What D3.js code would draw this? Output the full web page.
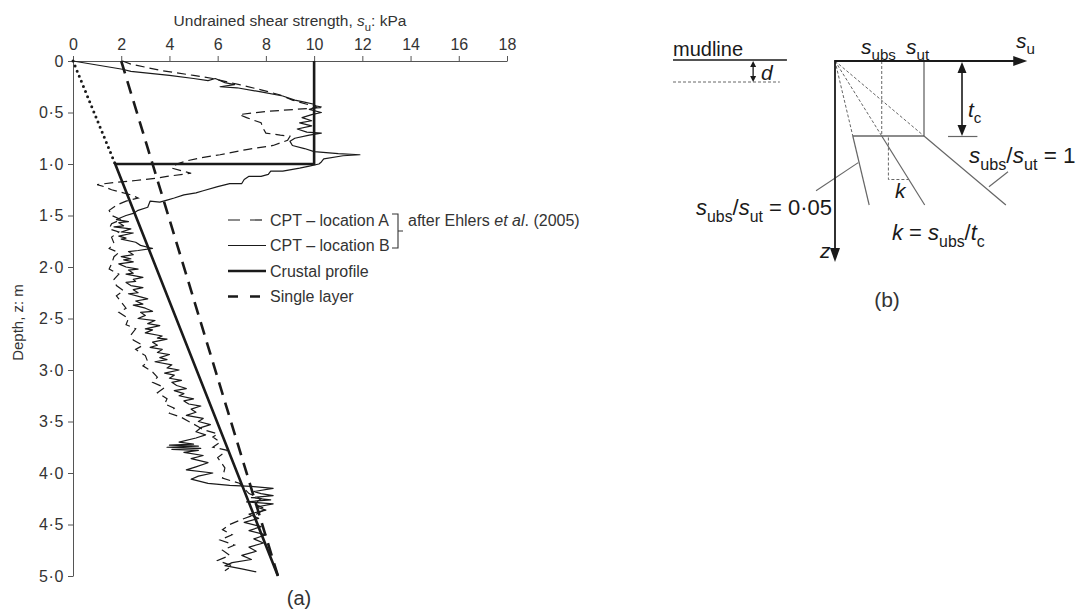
<!DOCTYPE html>
<html>
<head>
<meta charset="utf-8">
<script src="https://cdn.jsdelivr.net/npm/d3@7"></script>
<style>
  body { margin: 0; background: #fff; }
  svg { display: block; font-family: "Liberation Sans", Arial, sans-serif; }
</style>
</head>
<body>
<svg id="chart" width="1078" height="610"></svg>
<script>
// ---- 1. Data (depth z in m, su in kPa) ----
const xTicks = [0, 2, 4, 6, 8, 10, 12, 14, 16, 18];
const yTicks = [0, 0.5, 1, 1.5, 2, 2.5, 3, 3.5, 4, 4.5, 5];

// [z, su]
const crustalProfile = [[0, 10], [1, 10], [1, 1.75], [5, 8.5]];
const crustalExtension = [[0, 0], [1, 1.75]];
const singleLayer = [[0, 2], [5, 8.5]];

const cptA = [
  [0, 2.05], [0.03, 2.4], [0.09, 3.6], [0.14, 5.0], [0.17, 5.8], [0.23, 6.9],
  [0.28, 7.8], [0.33, 8.6], [0.38, 9.1], [0.42, 9.7], [0.45, 10.4], [0.47, 9.2],
  [0.49, 8.0], [0.52, 6.9], [0.55, 7.2], [0.6, 7.8], [0.66, 7.9], [0.7, 8.0],
  [0.72, 8.6], [0.73, 9.0], [0.77, 8.9], [0.82, 8.3], [0.86, 7.2], [0.91, 6.1],
  [0.94, 5.3], [0.97, 4.7], [1.0, 4.3], [1.04, 4.1], [1.09, 4.9], [1.12, 3.9],
  [1.14, 3.4], [1.16, 2.6], [1.18, 1.7], [1.2, 1.0], [1.22, 1.3], [1.25, 1.6],
  [1.3, 2.4], [1.33, 2.7], [1.36, 2.2], [1.4, 1.8], [1.45, 1.5], [1.5, 1.6],
  [1.54, 2.0], [1.58, 1.6], [1.63, 1.5], [1.66, 1.9], [1.71, 1.6], [1.77, 1.7],
  [1.82, 1.5], [1.86, 1.9], [1.9, 1.7], [1.97, 1.6], [2.02, 1.5], [2.07, 1.9],
  [2.12, 1.7], [2.18, 1.8], [2.23, 2.1], [2.28, 1.8], [2.34, 2.0], [2.4, 2.2],
  [2.44, 1.9], [2.5, 2.3], [2.56, 2.2], [2.6, 2.6], [2.66, 2.4], [2.71, 2.5],
  [2.76, 2.9], [2.8, 2.6], [2.86, 3.0], [2.92, 3.1], [2.96, 2.9], [3.02, 3.3],
  [3.07, 3.5], [3.12, 3.3], [3.17, 3.8], [3.22, 3.5], [3.28, 3.9], [3.33, 3.8],
  [3.37, 4.2], [3.42, 4.0], [3.46, 4.5], [3.5, 4.8], [3.55, 5.2], [3.58, 5.4],
  [3.62, 6.0], [3.65, 5.8], [3.7, 6.1], [3.75, 5.8], [3.78, 6.4], [3.85, 6.0],
  [3.95, 6.3], [4.05, 6.2], [4.1, 6.9], [4.2, 7.3], [4.25, 7.8], [4.3, 7.5],
  [4.35, 8.0], [4.4, 7.6], [4.45, 7.0], [4.5, 6.5], [4.55, 6.2], [4.6, 6.6],
  [4.65, 6.1], [4.7, 6.7], [4.75, 6.2], [4.8, 6.5], [4.85, 6.0], [4.9, 6.6],
  [4.95, 6.3]
];

const cptB = [
  [0, 0], [0.08, 2.05], [0.1, 2.4], [0.14, 4.0], [0.17, 5.0], [0.19, 5.6],
  [0.17, 5.9], [0.21, 6.3], [0.23, 6.7], [0.25, 6.1], [0.26, 6.8], [0.3, 7.8],
  [0.34, 8.7], [0.38, 9.2], [0.4, 9.6], [0.42, 10.0], [0.45, 10.1], [0.47, 9.8],
  [0.5, 10.3], [0.52, 9.9], [0.55, 9.5], [0.58, 9.9], [0.6, 9.4], [0.63, 9.9],
  [0.66, 9.3], [0.69, 9.7], [0.7, 10.3], [0.72, 9.8], [0.75, 9.2], [0.78, 9.0],
  [0.82, 9.1], [0.85, 9.6], [0.88, 10.0], [0.9, 11.0], [0.91, 11.9], [0.92, 11.2],
  [0.95, 10.4], [0.98, 10.3], [1.0, 10.2], [1.02, 9.8], [1.04, 9.4], [1.07, 8.7],
  [1.07, 8.2], [1.1, 8.1], [1.12, 7.8], [1.12, 7.3], [1.15, 7.1], [1.19, 7.0],
  [1.19, 6.5], [1.22, 6.0], [1.26, 5.4], [1.28, 5.1], [1.3, 4.6], [1.33, 4.2],
  [1.35, 3.9], [1.37, 3.6], [1.36, 3.2], [1.42, 3.1], [1.45, 2.7], [1.48, 2.5],
  [1.5, 2.2], [1.52, 2.0], [1.54, 1.8], [1.56, 2.3], [1.57, 1.9], [1.6, 2.1],
  [1.61, 1.7], [1.63, 2.4], [1.66, 2.0], [1.67, 2.5], [1.7, 1.9], [1.72, 2.2],
  [1.73, 2.0], [1.76, 2.6], [1.79, 2.8], [1.82, 3.3], [1.84, 2.7], [1.85, 2.3],
  [1.88, 2.5], [1.9, 2.0], [1.92, 2.4], [1.93, 2.1], [1.95, 2.5], [1.97, 1.9],
  [2.0, 2.2], [2.02, 2.7], [2.03, 2.3], [2.06, 2.5], [2.07, 2.2], [2.1, 2.9],
  [2.12, 2.5], [2.14, 2.6], [2.15, 2.2], [2.18, 2.4], [2.2, 2.9], [2.22, 2.5],
  [2.25, 2.7], [2.26, 2.3], [2.29, 2.8], [2.31, 3.1], [2.33, 2.6], [2.36, 2.9],
  [2.37, 2.5], [2.4, 3.0], [2.43, 3.3], [2.44, 2.8], [2.47, 3.0], [2.5, 2.7],
  [2.52, 3.4], [2.55, 3.1], [2.57, 3.6], [2.6, 3.0], [2.61, 3.3], [2.64, 3.0],
  [2.67, 3.7], [2.69, 3.5], [2.7, 3.9], [2.73, 3.3], [2.76, 3.5], [2.78, 3.2],
  [2.8, 3.7], [2.83, 3.5], [2.85, 4.0], [2.88, 3.6], [2.9, 3.9], [2.92, 3.4],
  [2.95, 4.1], [2.98, 3.9], [3.0, 4.4], [3.03, 3.8], [3.05, 4.2], [3.08, 4.0],
  [3.1, 4.5], [3.12, 4.1], [3.15, 4.3], [3.18, 4.7], [3.2, 4.2], [3.23, 4.6],
  [3.25, 4.4], [3.28, 5.0], [3.3, 4.6], [3.33, 4.8], [3.35, 5.3], [3.38, 4.9],
  [3.41, 5.1], [3.44, 4.7], [3.47, 5.4], [3.5, 5.2], [3.53, 5.7], [3.56, 5.3],
  [3.6, 5.1], [3.63, 5.5], [3.66, 5.1], [3.7, 4.4], [3.72, 5.0], [3.73, 4.0],
  [3.74, 5.2], [3.75, 3.9], [3.76, 5.3], [3.77, 4.1], [3.78, 5.2], [3.8, 4.6],
  [3.83, 5.4], [3.86, 4.9], [3.9, 5.6], [3.94, 5.1], [3.97, 4.7], [4.0, 5.8],
  [4.03, 5.2], [4.06, 4.9], [4.1, 5.6], [4.12, 6.5], [4.13, 7.4], [4.15, 8.3],
  [4.18, 7.5], [4.2, 7.8], [4.22, 8.3], [4.24, 7.4], [4.26, 8.2], [4.28, 7.2],
  [4.3, 8.3], [4.33, 7.6], [4.36, 8.0], [4.4, 7.3], [4.44, 7.7], [4.48, 7.1],
  [4.52, 7.8], [4.56, 7.3], [4.6, 8.0], [4.64, 7.5], [4.68, 7.9], [4.72, 7.3],
  [4.76, 7.6], [4.8, 7.0], [4.84, 7.4], [4.87, 6.6], [4.9, 6.3], [4.93, 7.0],
  [4.96, 7.6]
];

const legendItems = ["CPT \u2013 location A", "CPT \u2013 location B", "Crustal profile", "Single layer"];

// schematic (b): s in units of s_ut, z in units of t_c
const ubsRatios = [0.2, 0.525, 1];
const zLineEnd = 1.92;
const suAxisEnd = 2.16;
const zAxisEnd = 2.68;
const mudlineSpan = [-1.82, -0.54];
const mudDashSpan = [-1.82, -0.62];
const dDepth = 0.28;

// ---- 2. Panel (a) ----
const svg = d3.select("#chart");
const ink = "#1a1a1a";

const x = d3.scaleLinear().domain([0, 18]).range([73, 507]);
const y = d3.scaleLinear().domain([0, 5]).range([61, 576]);

const ga = svg.append("g");

ga.append("g")
  .attr("transform", `translate(0,${y(0)})`)
  .call(d3.axisTop(x).tickValues(xTicks).tickSize(5).tickSizeOuter(0).tickPadding(6))
  .call((g) => g.selectAll("text").style("fill", "#333").style("font-size", "16px").attr("font-family", null))
  .call((g) => g.selectAll("line").style("stroke", "#555"))
  .call((g) => g.select(".domain").style("stroke", "#555"));

ga.append("g")
  .attr("transform", `translate(${x(0)},0)`)
  .call(
    d3.axisLeft(y).tickValues(yTicks).tickSize(5).tickSizeOuter(0).tickPadding(4)
      .tickFormat((d) => (d === 0 ? "0" : d.toFixed(1).replace(".", "\u00b7")))
  )
  .call((g) => g.selectAll("text").style("fill", "#333").style("font-size", "16px")
    .style("letter-spacing", "0.6px").attr("font-family", null))
  .call((g) => g.selectAll("line").style("stroke", "#555"))
  .call((g) => g.select(".domain").style("stroke", "#555"));

function richText(parent, px, py, parts, size, anchor) {
  const t = parent.append("text")
    .attr("x", px).attr("y", py)
    .attr("font-size", size)
    .attr("fill", ink)
    .attr("text-anchor", anchor || "start");
  let shift = 0;
  parts.forEach((p) => {
    const sp = t.append("tspan").text(p.t);
    if (p.i) sp.attr("font-style", "italic");
    const target = p.sub ? size * 0.3 : 0;
    if (target !== shift) { sp.attr("dy", target - shift); shift = target; }
    if (p.sub) sp.attr("font-size", size * 0.72);
  });
  return t;
}

richText(ga, (x(0) + x(18)) / 2, 26, [
  { t: "Undrained shear strength, " }, { t: "s", i: true }, { t: "u", sub: true }, { t: ": kPa" }
], 15.5, "middle").attr("fill", "#333");

ga.append("text")
  .attr("transform", `translate(23,${(y(0) + y(5)) / 2 + 4}) rotate(-90)`)
  .attr("text-anchor", "middle")
  .attr("font-size", 15)
  .attr("fill", "#333")
  .text("Depth, z: m");

const line = d3.line().x((d) => x(d[1])).y((d) => y(d[0]));

ga.append("path").datum(cptA)
  .attr("fill", "none").attr("stroke", ink).attr("stroke-width", 1.2)
  .attr("stroke-dasharray", "9,5").attr("d", line);

ga.append("path").datum(cptB)
  .attr("fill", "none").attr("stroke", ink).attr("stroke-width", 1.2)
  .attr("stroke-linejoin", "round").attr("d", line);

ga.append("path").datum(crustalExtension)
  .attr("fill", "none").attr("stroke", ink).attr("stroke-width", 3)
  .attr("stroke-linecap", "round").attr("stroke-dasharray", "0,5.5").attr("d", line);

ga.append("path").datum(singleLayer)
  .attr("fill", "none").attr("stroke", ink).attr("stroke-width", 2.6)
  .attr("stroke-dasharray", "13,8").attr("d", line);

ga.append("path").datum(crustalProfile)
  .attr("fill", "none").attr("stroke", ink).attr("stroke-width", 2.6)
  .attr("d", line);

// legend
const legend = ga.append("g").attr("transform", "translate(228,220)");
const legendStyles = [
  { w: 1.2, dash: "12,10" },
  { w: 1.2, dash: null },
  { w: 2.6, dash: null },
  { w: 2.6, dash: "10,12" }
];
legendItems.forEach((label, i) => {
  const row = legend.append("g").attr("transform", `translate(0,${i * 25.5})`);
  row.append("line")
    .attr("x1", 0).attr("x2", 38).attr("y1", 0).attr("y2", 0)
    .attr("stroke", ink).attr("stroke-width", legendStyles[i].w)
    .attr("stroke-dasharray", legendStyles[i].dash);
  row.append("text")
    .attr("x", 42).attr("y", 5.5)
    .attr("font-size", 16).attr("fill", "#333")
    .text(label);
});
// bracket for the two CPT rows
legend.append("path")
  .attr("d", "M164,-6H170V28H164M170,11H175")
  .attr("fill", "none").attr("stroke", "#333").attr("stroke-width", 1.1);
richText(legend, 180, 5.5, [
  { t: "after Ehlers " }, { t: "et al", i: true }, { t: ". (2005)" }
], 16).attr("fill", "#333");

ga.append("text")
  .attr("x", 299).attr("y", 605)
  .attr("text-anchor", "middle").attr("font-size", 20).attr("fill", "#333")
  .text("(a)");

// ---- 3. Panel (b) schematic ----
const sx = d3.scaleLinear().domain([0, 1]).range([835, 924]);
const sz = d3.scaleLinear().domain([0, 1]).range([61, 136]);
const gb = svg.append("g");
const grey = "#666";

function arrowHead(g, tx, ty, dir, len, half) {
  // dir: unit vector pointing toward the tip
  const [dx, dy] = dir;
  const bx = tx - dx * len, by = ty - dy * len;
  g.append("path")
    .attr("d", `M${tx},${ty}L${bx - dy * half},${by + dx * half}L${bx + dy * half},${by - dx * half}Z`)
    .attr("fill", ink);
}

// dashed fan to t_c, solid continuation below
ubsRatios.forEach((r) => {
  gb.append("line")
    .attr("x1", sx(0)).attr("y1", sz(0)).attr("x2", sx(r)).attr("y2", sz(1))
    .attr("stroke", grey).attr("stroke-width", 1).attr("stroke-dasharray", "3,2");
  gb.append("line")
    .attr("x1", sx(r)).attr("y1", sz(1)).attr("x2", sx(r * zLineEnd)).attr("y2", sz(zLineEnd))
    .attr("stroke", grey).attr("stroke-width", 1.2);
});
// s_ubs dashed vertical, s_ut solid vertical, crust base
gb.append("line")
  .attr("x1", sx(ubsRatios[1])).attr("x2", sx(ubsRatios[1])).attr("y1", sz(0)).attr("y2", sz(1))
  .attr("stroke", grey).attr("stroke-width", 1).attr("stroke-dasharray", "3,2");
gb.append("line")
  .attr("x1", sx(1)).attr("x2", sx(1)).attr("y1", sz(0)).attr("y2", sz(1))
  .attr("stroke", grey).attr("stroke-width", 1.3);
gb.append("line")
  .attr("x1", sx(ubsRatios[0])).attr("x2", sx(1)).attr("y1", sz(1)).attr("y2", sz(1))
  .attr("stroke", grey).attr("stroke-width", 1.3);

// k triangle
gb.append("path")
  .attr("d", `M${sx(0.6)},${sz(1.02)}V${sz(1.58)}H${sx(ubsRatios[1] * 1.58)}`)
  .attr("fill", "none").attr("stroke", grey).attr("stroke-width", 1).attr("stroke-dasharray", "3,2");

// leader lines
gb.append("line")
  .attr("x1", sx(-0.213)).attr("y1", sz(1.73)).attr("x2", sx(ubsRatios[0] * 1.355 - 0.01)).attr("y2", sz(1.355))
  .attr("stroke", grey).attr("stroke-width", 1.1);
gb.append("line")
  .attr("x1", sx(1.73)).attr("y1", sz(1.676)).attr("x2", sx(1.944)).attr("y2", sz(1.476))
  .attr("stroke", grey).attr("stroke-width", 1.1);

// axes
gb.append("line")
  .attr("x1", sx(0)).attr("y1", sz(0)).attr("x2", sx(suAxisEnd) - 8).attr("y2", sz(0))
  .attr("stroke", ink).attr("stroke-width", 1.8);
arrowHead(gb, sx(suAxisEnd), sz(0), [1, 0], 14, 5);
gb.append("line")
  .attr("x1", sx(0)).attr("y1", sz(0) - 1).attr("x2", sx(0)).attr("y2", sz(zAxisEnd) - 8)
  .attr("stroke", ink).attr("stroke-width", 1.8);
arrowHead(gb, sx(0), sz(zAxisEnd), [0, 1], 14, 5);

// t_c dimension arrow
const tcX = sx(1.427);
gb.append("line")
  .attr("x1", tcX).attr("x2", tcX).attr("y1", sz(0) + 6).attr("y2", sz(1) - 6)
  .attr("stroke", ink).attr("stroke-width", 1.6);
arrowHead(gb, tcX, sz(0) + 1, [0, -1], 11, 4.5);
arrowHead(gb, tcX, sz(1), [0, 1], 11, 4.5);
gb.append("line")
  .attr("x1", sx(1.27)).attr("x2", sx(1.6)).attr("y1", sz(1) + 0.5).attr("y2", sz(1) + 0.5)
  .attr("stroke", grey).attr("stroke-width", 1.2);

// mudline sketch
gb.append("line")
  .attr("x1", sx(mudlineSpan[0])).attr("x2", sx(mudlineSpan[1])).attr("y1", sz(0) - 1).attr("y2", sz(0) - 1)
  .attr("stroke", ink).attr("stroke-width", 1.5);
gb.append("line")
  .attr("x1", sx(mudDashSpan[0])).attr("x2", sx(mudDashSpan[1])).attr("y1", sz(dDepth)).attr("y2", sz(dDepth))
  .attr("stroke", grey).attr("stroke-width", 1).attr("stroke-dasharray", "3,2");
const dX = sx(-0.92);
gb.append("line")
  .attr("x1", dX).attr("x2", dX).attr("y1", sz(0) + 4).attr("y2", sz(dDepth) - 4)
  .attr("stroke", ink).attr("stroke-width", 1.3);
arrowHead(gb, dX, sz(0), [0, -1], 6, 3);
arrowHead(gb, dX, sz(dDepth), [0, 1], 6, 3);

// labels
gb.append("text").attr("x", 673).attr("y", 56).attr("font-size", 20).attr("fill", ink).text("mudline");
richText(gb, 761, 80, [{ t: "d", i: true }], 21);
richText(gb, 861, 54, [{ t: "s", i: true }, { t: "ubs", sub: true }], 21);
richText(gb, 906, 54, [{ t: "s", i: true }, { t: "ut", sub: true }], 21);
richText(gb, 1016, 48, [{ t: "s", i: true }, { t: "u", sub: true }], 21);
richText(gb, 820, 258, [{ t: "z", i: true }], 21);
richText(gb, 968, 117, [{ t: "t", i: true }, { t: "c", sub: true }], 21);
richText(gb, 895, 198, [{ t: "k", i: true }], 21);
richText(gb, 969, 163, [
  { t: "s", i: true }, { t: "ubs", sub: true }, { t: "/" }, { t: "s", i: true }, { t: "ut", sub: true }, { t: " = 1" }
], 22.5);
richText(gb, 832, 215, [
  { t: "s", i: true }, { t: "ubs", sub: true }, { t: "/" }, { t: "s", i: true }, { t: "ut", sub: true }, { t: " = 0\u00b705" }
], 22, "end");
richText(gb, 892, 240, [
  { t: "k", i: true }, { t: " = " }, { t: "s", i: true }, { t: "ubs", sub: true }, { t: "/" }, { t: "t", i: true }, { t: "c", sub: true }
], 22);
gb.append("text")
  .attr("x", 887).attr("y", 307)
  .attr("text-anchor", "middle").attr("font-size", 21).attr("fill", "#333")
  .text("(b)");
</script>
</body>
</html>
